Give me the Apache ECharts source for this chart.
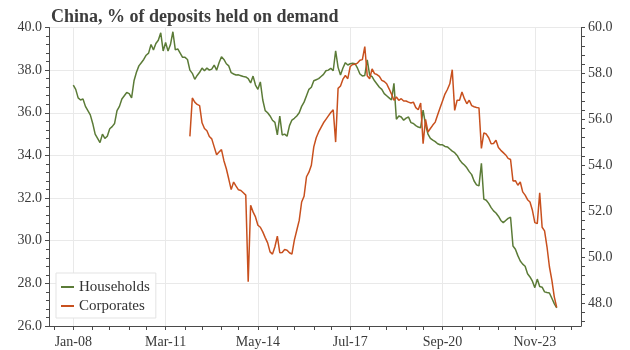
<!DOCTYPE html>
<html>
<head>
<meta charset="utf-8">
<script src="https://cdn.jsdelivr.net/npm/echarts@6/dist/echarts.min.js"></script>
<style>
  html, body { margin: 0; padding: 0; background: #fff; }
  #chart { width: 630px; height: 350px; }
</style>
</head>
<body>
<div id="chart"></div>
<script>
// Axis runs monthly from Mar-07 to Jun-25
const axisStart = { year: 2007, month: 2 };   // month is 0-based
const axisMonths = 220;
const tickLabels = ['Jan-08', 'Mar-11', 'May-14', 'Jul-17', 'Sep-20', 'Nov-23'];

// Households, % of deposits on demand, monthly from Jan-08 (left axis)
const householdsStart = 'Jan-08';
const households = [
  37.3, 37.1, 36.7, 36.6, 36.65, 36.3, 36.1, 35.9, 35.5, 35.0,
  34.8, 34.6, 35.0, 34.8, 34.9, 35.25, 35.35, 35.5, 36.1, 36.3,
  36.65, 36.8, 36.95, 36.9, 36.7, 37.5, 37.9, 38.2, 38.35, 38.5,
  38.7, 38.8, 39.2, 38.95, 39.25, 39.4, 39.75, 38.9, 39.3, 38.9,
  39.2, 39.8, 38.95, 39.0, 38.8, 38.6, 38.6, 38.5, 38.0, 37.85,
  37.57, 37.75, 37.9, 38.1, 37.97, 38.1, 38.0, 38.05, 38.24, 38.0,
  38.35, 38.63, 38.5, 38.3, 38.2, 37.88, 37.82, 37.77, 37.78, 37.74,
  37.7, 37.68, 37.6, 37.4, 37.72, 37.3, 37.1, 37.45, 36.6, 36.1,
  36.0, 35.85, 35.65, 35.55, 34.96, 35.85, 34.96, 35.0, 34.9, 35.4,
  35.66, 35.74, 35.85, 36.0, 36.3, 36.5, 36.8, 37.1, 37.2, 37.5,
  37.55, 37.6, 37.7, 37.8, 37.97, 38.0, 38.09, 37.97, 38.91, 38.13,
  37.77, 38.1, 38.35, 38.24, 38.3, 38.32, 38.3, 38.09, 37.82, 37.73,
  37.75, 38.48, 37.77, 37.7, 37.5, 37.35, 37.2, 37.1, 36.9, 36.8,
  36.7, 36.6, 37.38, 35.7, 35.85, 35.8, 35.65, 35.75, 35.8, 35.54,
  35.5, 35.4, 35.33, 35.3, 36.13, 35.45, 35.0, 34.8, 34.72, 34.65,
  34.55, 34.5, 34.5, 34.42, 34.4, 34.3, 34.2, 34.13, 34.0, 33.8,
  33.65, 33.55, 33.42, 33.24, 33.1, 32.8, 32.62, 32.57, 33.63, 31.95,
  31.9, 31.75, 31.55, 31.4, 31.3, 31.15, 30.95, 30.85, 30.95, 31.05,
  31.1, 29.75, 29.6, 29.3, 29.05, 28.9, 28.8, 28.45, 28.3, 28.1,
  27.8, 28.2, 27.85, 27.82, 27.6, 27.57, 27.55, 27.3, 27.05, 26.85
];

// Corporates, % of deposits on demand, monthly from Jan-12 (right axis)
const corporatesStart = 'Jan-12';
const corporates = [
  55.26, 56.93, 56.75, 56.65, 56.6, 55.85, 55.6, 55.5, 55.25, 55.15,
  54.8, 54.46, 54.58, 54.68, 54.2, 53.85, 53.4, 52.94, 53.27, 53.09,
  52.93, 52.9, 52.8, 52.7, 48.93, 52.26, 51.97, 51.75, 51.39, 51.3,
  51.1, 50.85, 50.62, 50.23, 50.13, 50.45, 50.91, 50.19, 50.2, 50.33,
  50.3, 50.19, 50.13, 50.74, 51.17, 51.6, 52.4, 52.65, 53.5, 53.7,
  54.0, 54.8, 55.2, 55.45, 55.65, 55.85, 56.0, 56.15, 56.3, 56.42,
  55.01, 57.35, 57.45, 57.75, 57.91, 57.77, 58.3, 58.39, 58.4, 58.45,
  58.57, 58.6, 59.17, 57.9, 57.77, 58.2, 57.99, 57.95, 57.87, 57.7,
  57.65, 57.55, 57.33, 57.1, 56.83, 56.97, 56.83, 56.9, 56.8, 56.8,
  56.75, 56.71, 56.75, 56.51, 56.42, 56.71, 54.94, 56.0, 55.45, 55.6,
  55.75, 55.88, 56.2, 56.5, 56.8, 57.1, 57.3, 57.55, 58.16, 56.39,
  56.83, 56.83, 57.19, 56.9, 56.68, 56.83, 56.6, 56.55, 56.52, 56.5,
  54.73, 55.41, 55.36, 55.2, 54.94, 54.95, 55.09, 54.77, 54.65, 54.55,
  54.45, 54.3, 54.25, 53.32, 53.33, 53.13, 53.27, 52.84, 52.7, 52.5,
  52.4, 52.04, 51.5, 51.46, 52.8, 51.3, 51.14, 50.45, 49.58, 49.0,
  48.27, 47.81
];

const GREEN = '#5b7b37';
const RED = '#c8501e';
const AXIS = '#4a4a4a';
const GRID = '#e9e9e9';
const SERIF = '"Liberation Serif", "DejaVu Serif", serif';

const MONTHS = ['Jan','Feb','Mar','Apr','May','Jun','Jul','Aug','Sep','Oct','Nov','Dec'];
const categories = [];
for (let i = 0; i < axisMonths; i++) {
  const t = axisStart.year * 12 + axisStart.month + i;
  const y = Math.floor(t / 12), mo = t % 12;
  categories.push(MONTHS[mo] + '-' + String(y % 100).padStart(2, '0'));
}

function placeOnAxis(values, startLabel) {
  const offset = categories.indexOf(startLabel);
  const out = new Array(categories.length).fill(null);
  values.forEach((v, i) => { out[offset + i] = v; });
  return out;
}

// major ticks every 38 months from the first labelled month, five steps between
const labelStep = 38;
const firstLabel = categories.indexOf(tickLabels[0]);
const minorOffsets = [0, 8, 15, 23, 30];
const isLabel = (i) => tickLabels.indexOf(categories[i]) >= 0;
const isTick = (i) => {
  const r = (((i - firstLabel) % labelStep) + labelStep) % labelStep;
  return minorOffsets.indexOf(r) >= 0;
};

const gridTop = 27.5, gridBottom = 24;
const plotH = 350 - gridTop - gridBottom;
const rightMin = 47, rightMax = 60;
const rightUnit = plotH / (rightMax - rightMin);
const rightTickMin = 47.2;

const labelFont = { fontFamily: SERIF, fontSize: 14, color: '#3a3a3a' };

const chart = echarts.init(document.getElementById('chart'), null, { renderer: 'canvas' });
chart.setOption({
  animation: false,
  backgroundColor: '#fff',
  title: {
    text: 'China, % of deposits held on demand',
    left: 46, top: 3,
    textStyle: { fontFamily: SERIF, fontWeight: 'bold', fontSize: 18, color: '#3d3d3d' }
  },
  legend: {
    data: ['Households', 'Corporates'],
    orient: 'vertical',
    left: 56, top: 273,
    padding: [6, 6, 4, 5],
    itemGap: 3,
    itemWidth: 13, itemHeight: 2,
    icon: 'rect',
    backgroundColor: '#fff',
    borderColor: '#e3e3e3', borderWidth: 1,
    textStyle: { fontFamily: SERIF, fontSize: 15, color: '#333', lineHeight: 16 }
  },
  grid: [
    { left: 49, right: 49, top: gridTop, bottom: gridBottom },
    { left: 49, right: 49, top: gridTop, bottom: gridBottom + (rightTickMin - rightMin) * rightUnit }
  ],
  xAxis: [
    {
      gridIndex: 0, type: 'category', data: categories, boundaryGap: false,
      axisLine: { lineStyle: { color: AXIS, width: 1 } },
      axisTick: { interval: (i) => isTick(i), length: 4, lineStyle: { color: AXIS } },
      axisLabel: { interval: (i) => isLabel(i), margin: 9, ...labelFont },
      splitLine: { show: true, interval: (i) => isLabel(i), lineStyle: { color: GRID, width: 1 } }
    },
    { gridIndex: 1, type: 'category', data: categories, boundaryGap: false, show: false }
  ],
  yAxis: [
    {
      gridIndex: 0, type: 'value', position: 'left', min: 26, max: 40, interval: 2,
      axisLine: { show: true, lineStyle: { color: AXIS } },
      axisTick: { show: true, length: 4, lineStyle: { color: AXIS } },
      minorTick: { show: true, splitNumber: 5, length: 3, lineStyle: { color: AXIS } },
      splitLine: { show: true, lineStyle: { color: GRID, width: 1 } },
      axisLabel: { margin: 7, formatter: (v) => v.toFixed(1), ...labelFont }
    },
    {
      gridIndex: 0, type: 'value', position: 'right', min: rightMin, max: rightMax, interval: 1,
      axisLine: { show: true, lineStyle: { color: AXIS } },
      axisTick: { show: false },
      splitLine: { show: false },
      axisLabel: {
        margin: 7,
        formatter: (v) => (Math.abs(v % 2) < 1e-6 ? v.toFixed(1) : ''),
        ...labelFont
      }
    },
    {
      gridIndex: 1, type: 'value', position: 'right', min: rightTickMin, max: rightMax, interval: 0.4,
      axisLine: { show: false },
      axisTick: { show: true, length: 4, lineStyle: { color: AXIS } },
      axisLabel: { show: false },
      splitLine: { show: false }
    }
  ],
  series: [
    {
      name: 'Households', type: 'line', xAxisIndex: 0, yAxisIndex: 0,
      data: placeOnAxis(households, householdsStart),
      symbol: 'none', connectNulls: false,
      lineStyle: { color: GREEN, width: 1.5 },
      itemStyle: { color: GREEN }
    },
    {
      name: 'Corporates', type: 'line', xAxisIndex: 0, yAxisIndex: 1,
      data: placeOnAxis(corporates, corporatesStart),
      symbol: 'none', connectNulls: false,
      lineStyle: { color: RED, width: 1.5 },
      itemStyle: { color: RED }
    }
  ]
});
</script>
</body>
</html>
